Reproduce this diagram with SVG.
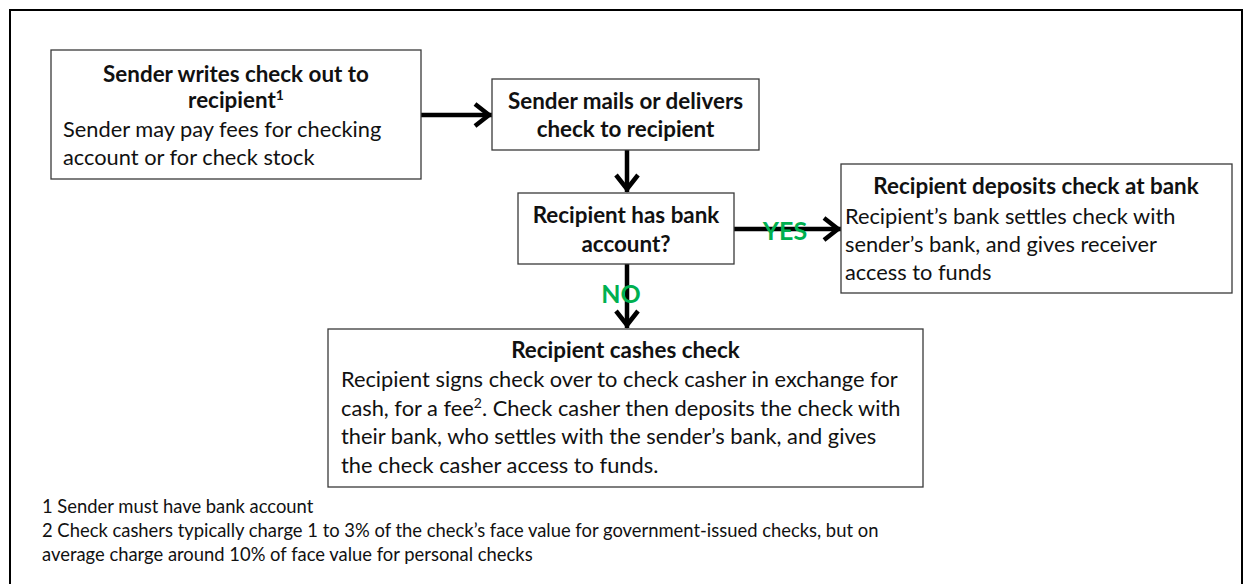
<svg xmlns="http://www.w3.org/2000/svg" width="1243" height="584" viewBox="0 0 1243 584">
<style>
.box{fill:#fff;stroke:#3a3a3a;stroke-width:1.3}
.t{font-family:Lato,"Liberation Sans",sans-serif;font-size:21.8px;fill:#111}
.b{font-weight:bold;text-anchor:middle;font-size:22.4px}
.lbl{font-family:Lato,"Liberation Sans",sans-serif;font-weight:bold;font-size:25px;fill:#00B050;text-anchor:middle}
.fn{font-family:Lato,"Liberation Sans",sans-serif;font-size:18.4px;fill:#111}
.arr{stroke:#000;stroke-width:4.5;fill:none;marker-end:url(#chev)}
</style>
<defs>
<marker id="chev" markerUnits="userSpaceOnUse" viewBox="-25 -15 30 30" markerWidth="30" markerHeight="30" refX="0" refY="0" orient="auto" overflow="visible">
<path d="M-17,-11 L-3,0 L-17,11" fill="none" stroke="#000" stroke-width="4.5"/>
</marker>
</defs>
<rect x="0" y="0" width="1243" height="584" fill="#fff"/>
<rect x="10" y="10" width="1232" height="600" fill="none" stroke="#000" stroke-width="2"/>

<g id="connectors">
<line class="arr" x1="421" y1="115" x2="492" y2="115"/>
<line class="arr" x1="627" y1="150" x2="627" y2="192"/>
<line class="arr" x1="734" y1="229" x2="841" y2="229"/>
<line class="arr" x1="627" y1="264" x2="627" y2="328"/>
<text class="lbl" x="785" y="240">YES</text>
<text class="lbl" x="621" y="303">NO</text>
</g>

<g id="n1">
<rect class="box" x="51" y="50" width="370" height="129"/>
<text class="t b" x="236" y="82">Sender writes check out to</text>
<text class="t b" x="236" y="108">recipient<tspan font-size="14" dy="-8">1</tspan></text>
<text class="t" x="63" y="137">Sender may pay fees for checking</text>
<text class="t" x="63" y="165">account or for check stock</text>
</g>

<g id="n2">
<rect class="box" x="492" y="79" width="267" height="71"/>
<text class="t b" x="625.5" y="109">Sender mails or delivers</text>
<text class="t b" x="625.5" y="137">check to recipient</text>
</g>

<g id="n3">
<rect class="box" x="518" y="193" width="216" height="71"/>
<text class="t b" x="626" y="223">Recipient has bank</text>
<text class="t b" x="626" y="252">account?</text>
</g>

<g id="n4">
<rect class="box" x="841" y="164" width="391" height="129"/>
<text class="t b" x="1036" y="194">Recipient deposits check at bank</text>
<text class="t" x="845" y="224">Recipient’s bank settles check with</text>
<text class="t" x="845" y="252">sender’s bank, and gives receiver</text>
<text class="t" x="845" y="280">access to funds</text>
</g>

<g id="n5">
<rect class="box" x="328" y="329" width="595" height="158"/>
<text class="t b" x="625.5" y="358">Recipient cashes check</text>
<text class="t" x="341" y="387">Recipient signs check over to check casher in exchange for</text>
<text class="t" x="341" y="416">cash, for a fee<tspan font-size="14" dy="-8">2</tspan><tspan dy="8">. Check casher then deposits the check with</tspan></text>
<text class="t" x="341" y="444">their bank, who settles with the sender’s bank, and gives</text>
<text class="t" x="341" y="473">the check casher access to funds.</text>
</g>

<g id="footnotes">
<text class="fn" x="42" y="513">1 Sender must have bank account</text>
<text class="fn" x="42" y="537">2 Check cashers typically charge 1 to 3% of the check’s face value for government-issued checks, but on</text>
<text class="fn" x="42" y="561">average charge around 10% of face value for personal checks</text>
</g>
</svg>
